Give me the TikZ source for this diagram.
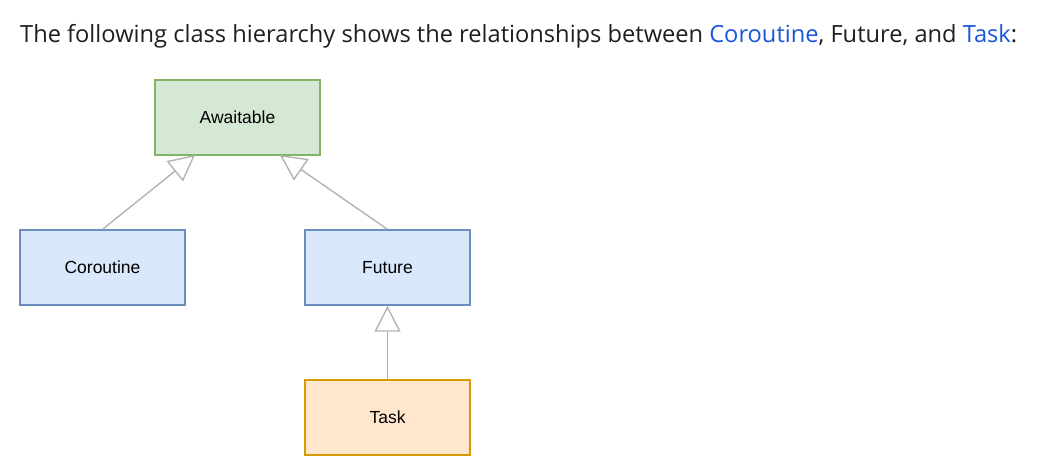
\documentclass[tikz,border=0pt]{standalone}
\usepackage{fontspec}
\setmainfont{Liberation Sans}
\newfontfamily\headfont{Open Sans}
\usetikzlibrary{arrows.meta}
\definecolor{linkblue}{HTML}{1A56DB}
\definecolor{headtext}{HTML}{1F1F1F}
\definecolor{gfill}{HTML}{D5E8D4}\definecolor{gdraw}{HTML}{82B366}
\definecolor{bfill}{HTML}{DAE8FC}\definecolor{bdraw}{HTML}{6C8EBF}
\definecolor{ofill}{HTML}{FFE6CC}\definecolor{odraw}{HTML}{D79B00}
\definecolor{arrowgray}{HTML}{B3B3B3}
\tikzset{
  classbox/.style={draw, line width=1.3pt, minimum width=165pt, minimum height=75pt, inner sep=0pt, font=\fontsize{17.5}{21}\selectfont},
  inherit/.style={draw=arrowgray, line width=1.4pt, -{Triangle[open, length=26pt, width=26pt, fill=white]}},
}
\begin{document}
\begin{tikzpicture}[x=1pt, y=-1pt]
\useasboundingbox (0,0) rectangle (1038,472);
\node[anchor=base west, inner sep=0pt, text=headtext, font=\headfont\fontsize{23.65}{28}\selectfont] (head) at (20,42)
  {The following class hierarchy shows the relationships between \textcolor{linkblue}{Coroutine}, Future, and \textcolor{linkblue}{Task}:};
\node[classbox, fill=gfill, draw=gdraw] (await) at (237.5,117.5) {Awaitable};
\node[classbox, fill=bfill, draw=bdraw] (corout) at (102.5,267.5) {Coroutine};
\node[classbox, fill=bfill, draw=bdraw] (future) at (387.5,267.5) {Future};
\node[classbox, fill=ofill, draw=odraw] (task) at (387.5,417.5) {Task};
\coordinate (awaitL) at (195,155);
\coordinate (awaitR) at (280,155);
\draw[inherit] (corout.north) -- (awaitL);
\draw[inherit] (future.north) -- (awaitR);
\draw[inherit] (task.north) -- (future.south);
\end{tikzpicture}
\end{document}
